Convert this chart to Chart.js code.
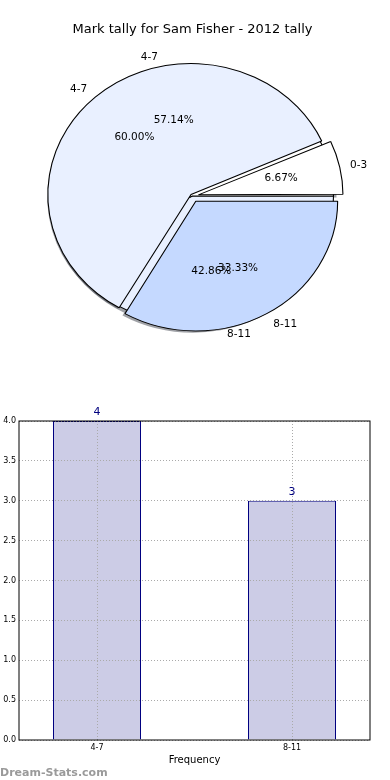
<!DOCTYPE html>
<html lang="en">
<head>
<meta charset="UTF-8">
<title>Mark tally for Sam Fisher</title>
<style>
  body { margin: 0; background: #fff; }
  #wrap { position: relative; width: 390px; height: 780px; }
  canvas { position: absolute; left: 0; }
  #pieBack, #pieFront { top: 0; }
  #bars { top: 380px; }
</style>
</head>
<body>
<div id="wrap">
  <canvas id="pieBack" width="390" height="380"></canvas>
  <canvas id="pieFront" width="390" height="380"></canvas>
  <canvas id="bars" width="390" height="400"></canvas>
</div>

<script src="https://cdn.jsdelivr.net/npm/chart.js"></script>
<script>
const chartTitle = 'Mark tally for Sam Fisher - 2012 tally';

// back pie, listed clockwise from 3 o'clock
const backLabels = ['8-11', '4-7'];
const backCounts = [3, 4];
const backColors = ['#e9f0ff', '#ffffff'];

// front pie, listed clockwise from 3 o'clock
const frontLabels = ['8-11', '4-7', '0-3'];
const frontCounts = [5, 9, 1];
const frontColors = ['#c5d9ff', '#e9f0ff', '#ffffff'];
const frontExplode = [24, 8, 22];

// bar chart
const barLabels = ['4-7', '8-11'];
const barCounts = [4, 3];
const yTicks = [0, 0.5, 1, 1.5, 2, 2.5, 3, 3.5, 4];

const FONT = '"DejaVu Sans", sans-serif';
const squash = 1.093;   // pies are a little wider than tall

function drawShadows(ctx, chart) {
  if (!chart) return;
  chart.getDatasetMeta(0).data.forEach(arc => {
    const t = (arc.options.offset || 0) / 4;
    const mid = (arc.startAngle + arc.endAngle) / 2;
    const d = arc.outerRadius * 0.02;
    const x = arc.x + t * Math.cos(mid) - d;
    const y = arc.y + t * Math.sin(mid) + d;
    ctx.beginPath();
    ctx.moveTo(x, y);
    ctx.arc(x, y, arc.outerRadius, arc.startAngle, arc.endAngle);
    ctx.closePath();
    ctx.fillStyle = 'rgba(66,70,80,0.5)';
    ctx.fill();
  });
}

function drawPieText(ctx, chart) {
  if (!chart) return;
  const counts = chart.data.datasets[0].data;
  const total = counts.reduce((s, v) => s + v, 0);
  chart.getDatasetMeta(0).data.forEach((arc, i) => {
    const t = (arc.options.offset || 0) / 4;
    const mid = (arc.startAngle + arc.endAngle) / 2;
    const c = Math.cos(mid), s = Math.sin(mid);
    const at = k => [arc.x + squash * (t + k * arc.outerRadius) * c,
                     arc.y + (t + k * arc.outerRadius) * s];
    const [lx, ly] = at(1.1);
    const [px, py] = at(0.6);
    ctx.textAlign = c > 0 ? 'left' : 'right';
    ctx.fillText(chart.data.labels[i], lx, ly);
    ctx.textAlign = 'center';
    ctx.fillText((counts[i] / total * 100).toFixed(2) + '%', px, py);
  });
}

// stretches the pie horizontally and paints the drop shadows
const stretch = {
  id: 'stretch',
  beforeDatasetsDraw(chart) {
    const ctx = chart.ctx;
    const a = chart.chartArea;
    const cx = (a.left + a.right) / 2, cy = (a.top + a.bottom) / 2;
    ctx.save();
    ctx.translate(cx, cy);
    ctx.scale(squash, 1);
    ctx.translate(-cx, -cy);
    if (chart.canvas.id === 'pieBack') {
      drawShadows(ctx, chart);
      drawShadows(ctx, Chart.getChart('pieFront'));
    }
  },
  afterDatasetsDraw(chart) {
    chart.ctx.restore();
  }
};

const pieText = {
  id: 'pieText',
  afterDraw(chart) {
    const ctx = chart.ctx;
    ctx.save();
    ctx.font = '10.5px ' + FONT;
    ctx.fillStyle = '#000';
    ctx.textBaseline = 'middle';
    drawPieText(ctx, Chart.getChart('pieBack'));
    drawPieText(ctx, chart);
    ctx.restore();
  }
};

function pieOptions(titleColor) {
  return {
    responsive: false,
    animation: false,
    events: [],
    rotation: 90,
    radius: 129,
    layout: { padding: { left: 0, right: 5, top: 0, bottom: 25.6 } },
    plugins: {
      legend: { display: false },
      tooltip: { enabled: false },
      title: {
        display: true,
        text: chartTitle,
        color: titleColor,
        font: { family: FONT, size: 13, weight: 'normal' },
        padding: { top: 22, bottom: 0 }
      }
    }
  };
}

const back = new Chart(document.getElementById('pieBack'), {
  type: 'pie',
  data: {
    labels: backLabels,
    datasets: [{
      data: backCounts,
      backgroundColor: backColors,
      borderColor: '#000',
      borderWidth: 1,
      clip: false
    }]
  },
  options: pieOptions('rgba(0,0,0,0)'),
  plugins: [stretch]
});

new Chart(document.getElementById('pieFront'), {
  type: 'pie',
  data: {
    labels: frontLabels,
    datasets: [{
      data: frontCounts,
      backgroundColor: frontColors,
      offset: frontExplode,
      borderColor: '#000',
      borderWidth: 1,
      clip: false
    }]
  },
  options: pieOptions('#000'),
  plugins: [stretch, pieText]
});

// redraw so the front pie's shadows land under the back pie
back.draw();

const frame = {
  id: 'frame',
  afterDraw(chart) {
    const { ctx, chartArea: a } = chart;
    ctx.save();
    ctx.strokeStyle = '#000';
    ctx.lineWidth = 1;
    ctx.strokeRect(a.left, a.top, a.right - a.left, a.bottom - a.top);
    ctx.restore();
  }
};

const valueLabels = {
  id: 'valueLabels',
  afterDraw(chart) {
    const ctx = chart.ctx;
    ctx.save();
    ctx.font = '11px ' + FONT;
    ctx.fillStyle = '#00007f';
    ctx.textAlign = 'center';
    ctx.textBaseline = 'bottom';
    chart.getDatasetMeta(0).data.forEach((bar, i) => {
      ctx.fillText(String(barCounts[i]), bar.x, bar.y - 3);
    });
    ctx.restore();
  }
};

const tickFont = { family: FONT, size: 8 };

new Chart(document.getElementById('bars'), {
  type: 'bar',
  data: {
    datasets: [{
      data: barLabels.map((l, i) => ({ x: i, y: barCounts[i] })),
      backgroundColor: '#ccccE6',
      borderColor: '#000080',
      borderWidth: 1,
      categoryPercentage: 1,
      barPercentage: 88 / 195
    }]
  },
  options: {
    responsive: false,
    animation: false,
    events: [],
    layout: { padding: { left: 0, right: 20, top: 41, bottom: 0 } },
    plugins: {
      legend: { display: false },
      tooltip: { enabled: false },
      subtitle: {
        display: true,
        text: 'Dream-Stats.com',
        position: 'bottom',
        align: 'start',
        color: '#9a9a9a',
        font: { family: FONT, size: 11, weight: 'bold' },
        padding: { top: 0, bottom: 0 }
      }
    },
    scales: {
      x: {
        type: 'linear',
        min: -0.4,
        max: 1.4,
        offset: false,
        afterBuildTicks: s => { s.ticks = barLabels.map((l, i) => ({ value: i })); },
        afterFit: s => { s.height = 26.8; },
        ticks: { callback: v => barLabels[v], font: tickFont, color: '#000', padding: 3, maxRotation: 0 },
        grid: { offset: false, color: '#aaa', drawTicks: false, z: 1 },
        border: { display: false, dash: [1, 2] },
        title: {
          display: true,
          text: 'Frequency',
          color: '#000',
          font: { family: FONT, size: 10 },
          padding: { top: 0, bottom: 0 }
        }
      },
      y: {
        min: 0,
        max: 4,
        afterBuildTicks: s => { s.ticks = yTicks.map(v => ({ value: v })); },
        afterFit: s => { s.width = 19; },
        ticks: { callback: v => v.toFixed(1), font: tickFont, color: '#000', padding: 3 },
        grid: { color: '#aaa', drawTicks: false, z: 1 },
        border: { display: false, dash: [1, 2] }
      }
    }
  },
  plugins: [frame, valueLabels]
});
</script>
</body>
</html>
